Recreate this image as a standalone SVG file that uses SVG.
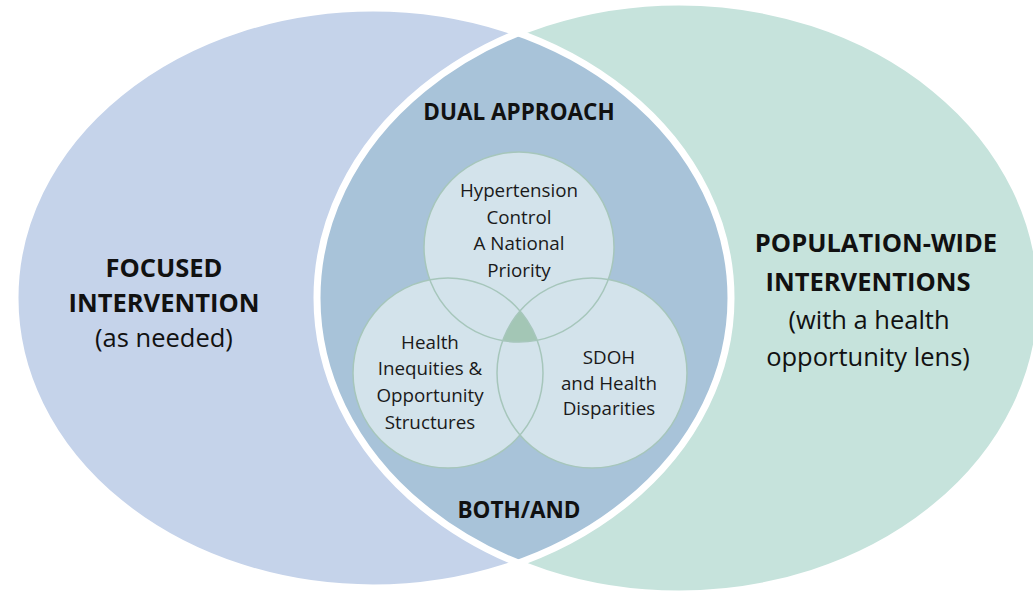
<svg xmlns="http://www.w3.org/2000/svg" width="1033" height="591" viewBox="0 0 1033 591">
<style>
  .big { font-family: "Open Sans", "Liberation Sans", sans-serif; font-size: 25.5px; fill: #111; text-anchor: middle; }
  .bigb { font-weight: bold; }
  .head { font-family: "Open Sans", "Liberation Sans", sans-serif; font-size: 22.5px; font-weight: bold; fill: #111; text-anchor: middle; }
  .small { font-family: "Open Sans", "Liberation Sans", sans-serif; font-size: 18.8px; fill: #1a1a1a; text-anchor: middle; }
  .outline { fill: none; stroke: #ffffff; stroke-width: 7; }
  .sub { fill: #d3e3eb; }
  .subline { fill: none; stroke: #a6c6bb; stroke-width: 1.5; }
</style>
<defs>
  <clipPath id="clipLeft"><ellipse cx="373" cy="298" rx="358" ry="290"/></clipPath>
  <clipPath id="clipTop"><circle cx="519" cy="247" r="95"/></clipPath>
  <clipPath id="clipL"><circle cx="448" cy="373" r="95"/></clipPath>
</defs>
<rect width="1033" height="591" fill="#ffffff"/>
<g id="focused">
  <ellipse cx="373" cy="298" rx="358" ry="290" fill="#c5d3ea"/>
</g>
<g id="population">
  <ellipse cx="679" cy="298" rx="362" ry="296" fill="#c6e3dc"/>
</g>
<g id="dual-approach">
  <g clip-path="url(#clipLeft)">
    <ellipse cx="679" cy="298" rx="362" ry="296" fill="#a8c3d9"/>
  </g>
</g>
<g id="outlines">
  <ellipse class="outline" cx="373" cy="298" rx="358" ry="290"/>
  <ellipse class="outline" cx="679" cy="298" rx="362" ry="296"/>
</g>
<g id="sub-circles">
  <circle class="sub" cx="519" cy="247" r="95"/>
  <circle class="sub" cx="448" cy="373" r="95"/>
  <circle class="sub" cx="592" cy="373" r="95"/>
  <g clip-path="url(#clipTop)"><g clip-path="url(#clipL)"><circle cx="592" cy="373" r="95" fill="#a3c6b5"/></g></g>
  <circle class="subline" cx="519" cy="247" r="95"/>
  <circle class="subline" cx="448" cy="373" r="95"/>
  <circle class="subline" cx="592" cy="373" r="95"/>
</g>
<g id="connectors"/>
<g id="label-focused">
  <text class="big bigb" x="164" y="277">FOCUSED</text>
  <text class="big bigb" x="164" y="312">INTERVENTION</text>
  <text class="big" x="164" y="347">(as needed)</text>
</g>
<g id="label-population">
  <text class="big bigb" x="876" y="252">POPULATION-WIDE</text>
  <text class="big bigb" x="868" y="291">INTERVENTIONS</text>
  <text class="big" x="869" y="329">(with a health</text>
  <text class="big" x="868" y="366">opportunity lens)</text>
</g>
<g id="label-dual">
  <text class="head" x="519" y="120">DUAL APPROACH</text>
  <text class="head" x="519" y="518">BOTH/AND</text>
</g>
<g id="label-hypertension">
  <text class="small" x="519" y="197">Hypertension</text>
  <text class="small" x="519" y="224">Control</text>
  <text class="small" x="519" y="250">A National</text>
  <text class="small" x="519" y="277">Priority</text>
</g>
<g id="label-inequities">
  <text class="small" x="430" y="349">Health</text>
  <text class="small" x="430" y="375">Inequities &amp;</text>
  <text class="small" x="430" y="402">Opportunity</text>
  <text class="small" x="430" y="429">Structures</text>
</g>
<g id="label-sdoh">
  <text class="small" x="609" y="364">SDOH</text>
  <text class="small" x="609" y="390">and Health</text>
  <text class="small" x="609" y="415">Disparities</text>
</g>
</svg>
